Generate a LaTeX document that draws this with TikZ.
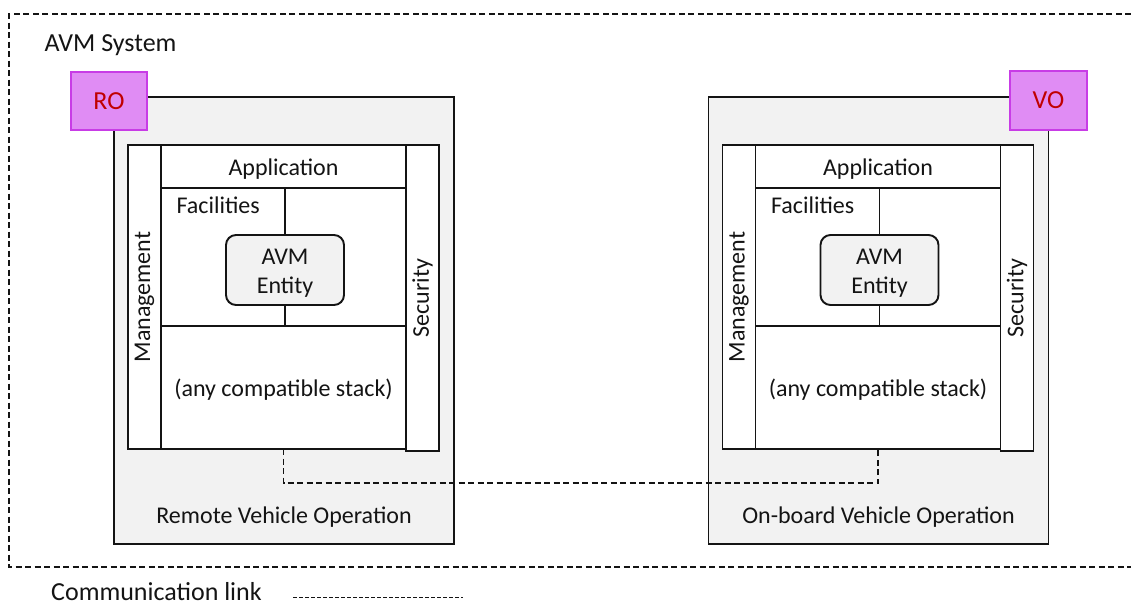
\documentclass[tikz,border=0pt]{standalone}
\usepackage{fontspec}
\setmainfont{Carlito}

\definecolor{ink}{HTML}{141414}
\definecolor{framegray}{HTML}{F2F2F2}
\definecolor{tagfill}{HTML}{E08CF4}
\definecolor{tagline}{HTML}{C83CE6}
\definecolor{tagtext}{HTML}{C00000}

\tikzset{
  every node/.style={font=\fontsize{24}{29}\selectfont, text=ink},
  bigtext/.style={font=\fontsize{26}{31}\selectfont},
  box/.style={draw=ink, line width=1.9pt, inner sep=0pt, outer sep=0pt, anchor=north west},
  framebox/.style={box, fill=framegray},
  layerbox/.style={box, fill=white},
  entitybox/.style={box, fill=framegray, rounded corners=10pt, align=center},
  tagbox/.style={draw=tagline, fill=tagfill, line width=1.5pt, inner sep=0pt, outer sep=0pt,
                 anchor=north west, text=tagtext, font=\fontsize{26}{31}\selectfont},
  wire/.style={draw=ink, line width=1.9pt},
  sysline/.style={draw=ink, line width=1.3pt, dash pattern=on 6pt off 3.5pt},
  linkline/.style={draw=ink, line width=1.6pt, dash pattern=on 6pt off 3.5pt},
  keyline/.style={draw=ink, line width=1pt, dash pattern=on 4pt off 2pt},
}

% One operation unit: frame, layered stack and AVM entity
% #1 name prefix, #2 horizontal shift, #3 caption
\newcommand\opunit[3]{%
  \begin{scope}[xshift=#2, name prefix=#1-]
    \node[framebox, minimum width=340, minimum height=447] (frame) at (114,97) {};
    \node[layerbox, minimum width=311, minimum height=304] (stack) at (128,145) {};
    \node[layerbox, minimum width=33, minimum height=304] (mgmt) at (128,145) {};
    \node[layerbox, minimum width=33, minimum height=306] (sec) at (406,145) {};
    \node[layerbox, minimum width=245, minimum height=43] (app) at (161,145) {};
    \node[layerbox, minimum width=245, minimum height=138] (fac) at (161,188) {};
    \node[layerbox, minimum width=245, minimum height=123] (lower) at (161,326) {};
    \node[entitybox, minimum width=118, minimum height=70] (entity) at (226,235) {};
    \node[align=center] (entitytext) at ([yshift=-3pt]entity.center) {AVM\\Entity};
    \draw[wire] (fac.north -| entity.north) -- (entity.north);
    \draw[wire] (entity.south) -- (lower.north -| entity.south);
    \node (apptext) at ([yshift=-2.5pt]app.center) {Application};
    \node[anchor=base west] (factext) at (173,213) {Facilities};
    \node (stacktext) at ([yshift=-2pt]lower.center) {(any compatible stack)};
    \node[rotate=90] (mgmttext) at (mgmt.center) {Management};
    \node[rotate=90] (sectext) at (sec.center) {Security};
    \node (caption) at (284,517) {#3};
  \end{scope}%
}

\begin{document}
\begin{tikzpicture}[x=1pt, y=-1pt]
  \useasboundingbox (0,0) rectangle (1131,608);

  % system boundary, open towards the right
  \coordinate (sysTR) at (1131,14);
  \coordinate (sysTL) at (9,14);
  \coordinate (sysBL) at (9,567);
  \coordinate (sysBR) at (1131,567);
  \draw[sysline] (sysTR) -- (sysTL) -- (sysBL) -- (sysBR);
  \node[bigtext, anchor=base west] (systitle) at (41,51) {AVM System};

  \opunit{L}{0pt}{Remote Vehicle Operation}
  \opunit{R}{594.5pt}{On-board Vehicle Operation}

  \node[tagbox, minimum width=76, minimum height=58] (ro) at (71,72) {RO};
  \node[tagbox, minimum width=77, minimum height=59] (vo) at (1010,71) {VO};

  % communication link between the two stacks
  \draw[linkline] (L-lower.south) -- ++(0,34) -| (R-lower.south);

  % legend
  \node[bigtext, anchor=base west, inner sep=0pt] (keytext) at (51,600) {Communication link};
  \coordinate (keyA) at (293,597);
  \coordinate (keyB) at (463,597);
  \draw[keyline] (keyA) -- (keyB);
\end{tikzpicture}
\end{document}
